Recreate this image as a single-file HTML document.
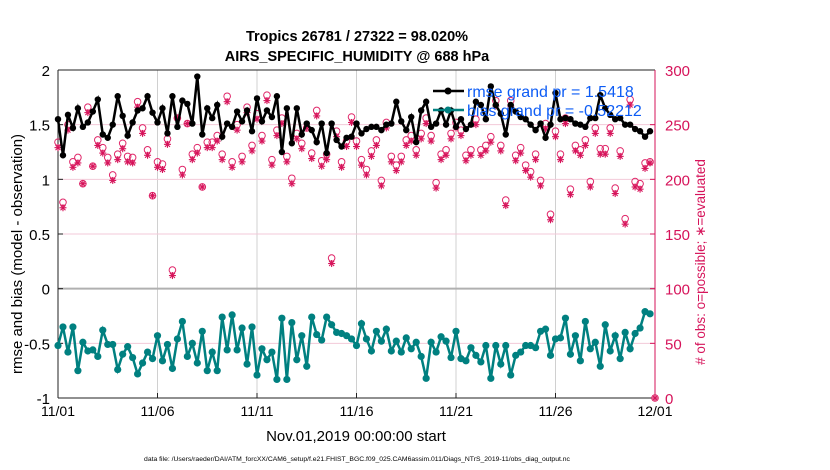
<!DOCTYPE html>
<html><head><meta charset="utf-8"><style>
body{margin:0;background:#fff;}
svg{display:block;font-family:"Liberation Sans",Arial,sans-serif;}
</style></head><body>
<svg id="chart" width="830" height="470" viewBox="0 0 830 470" xmlns="http://www.w3.org/2000/svg">
<text x="357" y="41" text-anchor="middle" font-size="14.5" font-weight="bold">Tropics 26781 / 27322 = 98.020%</text>
<text x="357" y="61" text-anchor="middle" font-size="14.5" font-weight="bold">AIRS_SPECIFIC_HUMIDITY @ 688 hPa</text>
<g id="grid"></g>
<g id="axes"></g>
<g id="marks"></g>
<text transform="translate(22,254) rotate(-90)" text-anchor="middle" font-size="15">rmse and bias (model - observation)</text>
<text transform="translate(705,262) rotate(-90)" text-anchor="middle" font-size="13.5" fill="#d6135a"># of obs: o=possible; ∗=evaluated</text>
<text x="356" y="441" text-anchor="middle" font-size="15">Nov.01,2019 00:00:00 start</text>
<text x="357" y="461" text-anchor="middle" font-size="6.8">data file: /Users/raeder/DAI/ATM_forcXX/CAM6_setup/f.e21.FHIST_BGC.f09_025.CAM6assim.011/Diags_NTrS_2019-11/obs_diag_output.nc</text>
<g id="legend"></g>
</svg>
<script>
const rmse=[1.55,1.22,1.59,1.47,1.65,1.48,1.52,1.62,1.73,1.41,1.38,1.50,1.76,1.58,1.40,1.52,1.63,1.65,1.76,1.61,1.52,1.65,1.42,1.76,1.48,1.72,1.69,1.51,1.94,1.41,1.65,
1.56,1.68,1.39,1.51,1.48,1.62,1.53,1.63,1.44,1.74,1.53,1.63,1.57,1.76,1.25,1.65,1.33,1.65,1.41,1.51,1.45,1.34,1.51,1.24,1.51,1.36,1.30,1.38,1.39,1.51,
1.42,1.46,1.48,1.48,1.45,1.50,1.51,1.71,1.53,1.45,1.57,1.34,1.63,1.71,1.48,1.51,1.63,1.50,1.63,1.48,1.55,1.46,1.50,1.71,1.68,1.55,1.85,1.68,1.60,1.41,
1.68,1.62,1.57,1.55,1.50,1.45,1.51,1.38,1.50,1.79,1.55,1.56,1.55,1.51,1.50,1.48,1.56,1.56,1.77,1.65,1.59,1.55,1.56,1.50,1.50,1.46,1.44,1.39,1.44];
const bias=[-0.52,-0.35,-0.58,-0.35,-0.75,-0.49,-0.57,-0.56,-0.62,-0.38,-0.51,-0.51,-0.74,-0.60,-0.53,-0.63,-0.78,-0.68,-0.58,-0.64,-0.43,-0.66,-0.51,-0.73,-0.46,-0.30,-0.62,-0.50,-0.68,-0.39,-0.75,
-0.58,-0.75,-0.26,-0.56,-0.24,-0.56,-0.36,-0.69,-0.35,-0.79,-0.55,-0.65,-0.58,-0.83,-0.27,-0.83,-0.31,-0.65,-0.43,-0.71,-0.26,-0.42,-0.47,-0.26,-0.33,-0.40,-0.41,-0.43,-0.46,-0.52,
-0.32,-0.46,-0.57,-0.39,-0.48,-0.37,-0.57,-0.48,-0.58,-0.45,-0.55,-0.49,-0.62,-0.82,-0.49,-0.58,-0.44,-0.48,-0.63,-0.39,-0.64,-0.66,-0.54,-0.61,-0.67,-0.52,-0.82,-0.52,-0.69,-0.52,
-0.79,-0.61,-0.58,-0.52,-0.52,-0.54,-0.39,-0.37,-0.61,-0.46,-0.45,-0.27,-0.60,-0.43,-0.66,-0.30,-0.55,-0.49,-0.71,-0.33,-0.57,-0.43,-0.64,-0.40,-0.55,-0.41,-0.36,-0.21,-0.23];
const possible=[234,179,250,216,220,196,266,212,236,229,220,204,223,233,221,220,271,247,227,185,216,214,237,117,256,209,251,223,229,193,234,
234,240,223,276,216,250,221,266,231,260,240,277,218,245,256,221,201,242,233,247,224,263,217,223,128,244,216,235,257,235,
218,209,226,236,199,252,221,213,221,236,240,227,242,256,240,197,223,227,242,252,245,222,227,255,227,231,239,272,231,181,
272,222,229,213,207,223,199,251,168,244,223,256,191,231,227,236,198,247,228,228,247,192,226,164,273,198,196,215,216,0];
const evaluated=[229,174,245,211,215,196,261,212,231,224,215,199,218,228,216,215,266,242,222,185,211,209,232,112,256,204,251,218,224,193,229,
229,235,218,271,211,245,216,261,226,255,235,272,213,240,251,216,196,237,228,247,219,258,212,218,123,239,211,230,252,230,
213,204,221,231,194,247,216,208,216,231,235,222,237,251,235,192,218,222,237,247,240,217,222,250,222,226,234,267,226,176,
267,217,224,208,202,218,194,246,163,239,218,251,186,226,222,231,193,242,223,223,242,187,221,159,268,193,191,210,215,0];
const xTickLabels=["11/01","11/06","11/11","11/16","11/21","11/26","12/01"];
const yLeftTicks=[2,1.5,1,0.5,0,-0.5,-1];
const yRightTicks=[300,250,200,150,100,50,0];

const NS="http://www.w3.org/2000/svg";
const X0=58,X1=655,Y0=70,Y1=398;
const xDay=d=>X0+(X1-X0)*d/30;
const xIdx=i=>xDay(i*0.25);
const yL=v=>Y0+(2-v)*(Y1-Y0)/3;
const yR=v=>Y1-v*(Y1-Y0)/300;
function mk(parent,tag,attrs){const e=document.createElementNS(NS,tag);for(const k in attrs)e.setAttribute(k,attrs[k]);parent.appendChild(e);return e;}
const grid=document.getElementById('grid'),axes=document.getElementById('axes'),marks=document.getElementById('marks'),leg=document.getElementById('legend');

mk(grid,'rect',{x:X0,y:Y0,width:X1-X0,height:Y1-Y0,fill:'#fff'});
xTickLabels.forEach((t,k)=>{const x=xDay(k*5);
 if(k>0&&k<6){const l=mk(grid,'line',{x1:x,x2:x,y1:Y0,y2:Y1,stroke:'#d0d0d0','stroke-width':1});
 
 }
 const tx=mk(axes,'text',{x:x,y:Y1+18,'text-anchor':'middle','font-size':14});tx.textContent=t;
 
 
 mk(axes,'line',{x1:x,x2:x,y1:Y1,y2:Y1-5,stroke:'#222'});
});
yRightTicks.forEach(v=>{const y=yR(v);
 if(v===250||v===200||v===150||v===50){const l=mk(grid,'line',{x1:X0,x2:X1,y1:y,y2:y,stroke:'#f3c9d8','stroke-width':1});
 
 }
 const tx=mk(axes,'text',{x:X1+10,y:y+6,'font-size':15,fill:'#d6135a'});tx.textContent=v;
 
 
 mk(axes,'line',{x1:X1,x2:X1-5,y1:y,y2:y,stroke:'#d6135a'});
});
const zl=mk(grid,'line',{x1:X0,x2:X1,y1:yL(0),y2:yL(0),stroke:'#b0b0b0','stroke-width':2});


yLeftTicks.forEach(v=>{const y=yL(v);
 const tx=mk(axes,'text',{x:X0-8,y:y+6,'text-anchor':'end','font-size':15});tx.textContent=v;
 
 
 mk(axes,'line',{x1:X0,x2:X0+5,y1:y,y2:y,stroke:'#222'});
});
mk(axes,'line',{x1:X0,x2:X1,y1:Y0,y2:Y0,stroke:'#222'});
mk(axes,'line',{x1:X0,x2:X1,y1:Y1,y2:Y1,stroke:'#222'});
mk(axes,'line',{x1:X0,x2:X0,y1:Y0,y2:Y1,stroke:'#222'});
mk(axes,'line',{x1:X1,x2:X1,y1:Y0,y2:Y1,stroke:'#d6135a'});

possible.forEach((v,i)=>{
 const c=mk(marks,'circle',{cx:xIdx(i),cy:yR(v),r:3.3,fill:'none',stroke:'#e0286a','stroke-width':1});
 
 
});
evaluated.forEach((v,i)=>{const x=xIdx(i),y=yR(v),r=3.5;
 const g=mk(marks,'g',{stroke:'#d6135a','stroke-width':1.1});
 
 
 mk(g,'line',{x1:x-r,x2:x+r,y1:y,y2:y});mk(g,'line',{x1:x,x2:x,y1:y-r,y2:y+r});
 mk(g,'line',{x1:x-2.5,x2:x+2.5,y1:y-2.5,y2:y+2.5});mk(g,'line',{x1:x-2.5,x2:x+2.5,y1:y+2.5,y2:y-2.5});
});
function series(arr,color,name,r){
 const p=mk(marks,'polyline',{points:arr.map((v,i)=>xIdx(i)+','+yL(v)).join(' '),fill:'none',stroke:color,'stroke-width':2.5});
 
 
 arr.forEach((v,i)=>{const c=mk(marks,'circle',{cx:xIdx(i),cy:yL(v),r:r,fill:color});
 
 });
}
series(rmse,'#000','rmse',3.2);
series(bias,'#008080','bias',3.6);

const items=[['#000','rmse grand pr = 1.5418',97],['#008080','bias grand pr = -0.52212',116]];
items.forEach(([c,t,y])=>{
 mk(leg,'line',{x1:433,x2:464,y1:y-6,y2:y-6,stroke:c,'stroke-width':2.5});
 mk(leg,'circle',{cx:448,cy:y-6,r:3.5,fill:c});
 const tx=mk(leg,'text',{x:467,y:y,'font-size':16,fill:'#0d5cf5'});tx.textContent=t;
 
 
});
</script>
</body></html>
